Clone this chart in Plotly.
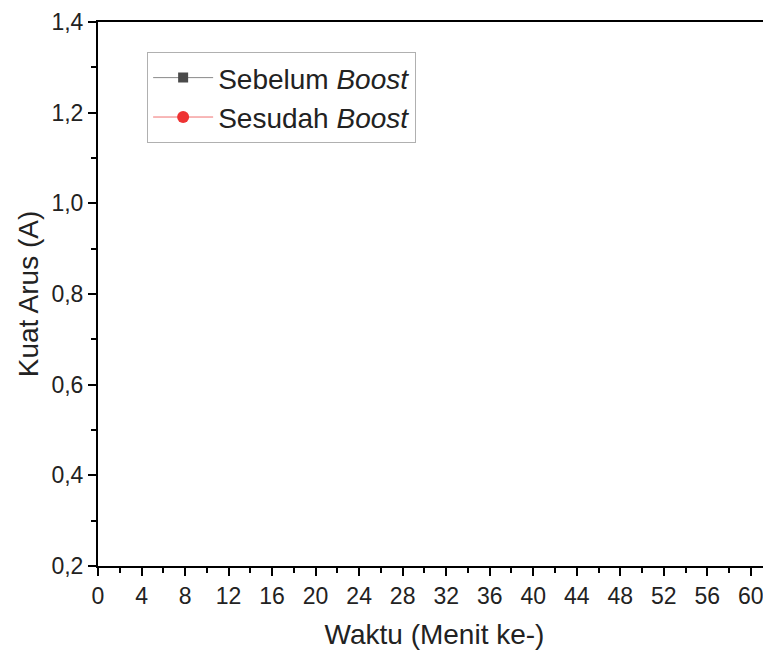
import plotly.graph_objects as go

# Data (no points fall inside the visible plotting window of the reference)
waktu = [None]
arus_sebelum = [None]
arus_sesudah = [None]

series_names = ["Sebelum <i>Boost</i>", "Sesudah <i>Boost</i>"]
x_ticks = list(range(0, 61, 4))
y_ticks = [0.2, 0.4, 0.6, 0.8, 1.0, 1.2, 1.4]

font_family = "Liberation Sans, Arial, sans-serif"

fig = go.Figure()
fig.add_trace(go.Scatter(
    x=waktu, y=arus_sebelum, mode="lines+markers", name=series_names[0],
    line=dict(color="#8a8a8a", width=1),
    marker=dict(symbol="square", size=10, color="#4a4a4a"),
))
fig.add_trace(go.Scatter(
    x=waktu, y=arus_sesudah, mode="lines+markers", name=series_names[1],
    line=dict(color="#f07070", width=1),
    marker=dict(symbol="circle", size=12, color="#ee3333"),
))

axis_common = dict(
    showgrid=False, zeroline=False, showline=True, linecolor="black", linewidth=2,
    ticks="outside", ticklen=8, tickwidth=2, tickcolor="black",
    tickfont=dict(size=23, color="#222", family=font_family),
)

fig.update_xaxes(
    **axis_common,
    range=[0, 61.85], tickmode="array", tickvals=x_ticks,
    ticktext=[str(v) for v in x_ticks],
    minor=dict(ticks="outside", dtick=2, tick0=0, ticklen=5, tickwidth=2, tickcolor="black"),
    mirror=True,
    title=dict(text="Waktu (Menit ke-)", font=dict(size=28, color="#222", family=font_family), standoff=17),
)
fig.update_yaxes(
    **axis_common,
    range=[0.2, 1.4], tickmode="array", tickvals=y_ticks,
    ticktext=[f"{v:.1f}".replace(".", ",") for v in y_ticks],
    minor=dict(ticks="outside", dtick=0.1, tick0=0.2, ticklen=5, tickwidth=2, tickcolor="black"),
    mirror=False,
    title=dict(text="Kuat Arus (A)", font=dict(size=28, color="#222", family=font_family), standoff=5),
)

fig.update_layout(
    width=763, height=646,
    margin=dict(l=90, r=0, t=14, b=88),
    plot_bgcolor="white", paper_bgcolor="white",
    separators=",.",
    showlegend=True,
    legend=dict(
        x=0.073, y=0.945, xanchor="left", yanchor="top",
        bordercolor="#b0b0b0", borderwidth=1, bgcolor="white",
        font=dict(size=28, color="#222", family=font_family),
        itemwidth=60, tracegroupgap=0,
    ),
)

fig.write_html("out.html")
